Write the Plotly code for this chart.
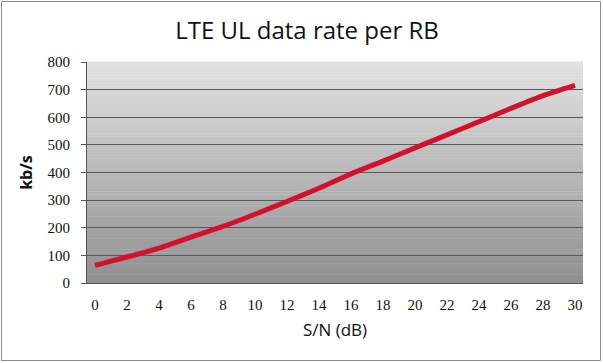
import plotly.graph_objects as go

# kb/s values (every 2 dB)
sn_db = list(range(0, 31, 2))
rate = [64, 94, 126, 166, 205, 249, 295, 343, 395, 441, 489, 536, 584, 632, 678, 715]
x_ticks = list(range(0, 31, 2))
y_ticks = list(range(0, 801, 100))

fig = go.Figure()
fig.add_trace(go.Scatter(
    x=sn_db, y=rate, mode="lines",
    line=dict(color="#d4112a", width=5, shape="spline", smoothing=0.6),
    hoverinfo="skip", showlegend=False,
))

# vertical gray gradient plot background
shapes = []
n = 80
top = (226, 226, 226)
bot = (143, 143, 143)
for i in range(n):
    t = (i + 0.5) / n
    c = tuple(round(bot[k] + (top[k] - bot[k]) * t) for k in range(3))
    shapes.append(dict(type="rect", xref="paper", yref="paper",
                       x0=0, x1=1, y0=i / n, y1=(i + 1) / n + 0.002,
                       fillcolor="rgb(%d,%d,%d)" % c, line=dict(width=0),
                       layer="below"))

W, H = 603, 363
ml, mr, mt, mb = 87, 20, 62, 80
pw, ph = W - ml - mr, H - mt - mb
def px(x):
    return (x - ml) / pw
def py(y):
    return (H - mb - y) / ph
shapes.append(dict(type="rect", xref="paper", yref="paper",
                   x0=px(1.5), x1=px(600.5), y0=py(360.5), y1=py(1.5),
                   line=dict(color="#8a8a8a", width=1), fillcolor="rgba(0,0,0,0)",
                   layer="above"))

fig.update_layout(
    width=W, height=H,
    margin=dict(l=ml, r=mr, t=mt, b=mb),
    paper_bgcolor="white",
    plot_bgcolor="rgba(0,0,0,0)",
    shapes=shapes,
    title=dict(text="LTE UL data rate per RB", x=307 / W,
               xanchor="center", y=1 - 31 / H, yanchor="middle",
               font=dict(family="Open Sans", size=24, color="#111111")),
    xaxis=dict(
        range=[-0.5, 30.5], tickvals=x_ticks, ticktext=[str(v) for v in x_ticks],
        showgrid=False, zeroline=False, showline=True, linecolor="#555555", linewidth=1,
        ticks="", ticklabelstandoff=8,
        tickfont=dict(family="Liberation Serif", size=15, color="#111111"),
        title=dict(text="S/N (dB)", standoff=12,
                   font=dict(family="Open Sans", size=17, color="#111111")),
    ),
    yaxis=dict(
        range=[0, 800], tickvals=y_ticks,
        showgrid=True, gridcolor="#5a5a5a", gridwidth=1,
        zeroline=False, showline=True, linecolor="#555555", linewidth=1,
        ticks="outside", ticklen=5, tickcolor="#555555",
        ticklabelstandoff=8,
        tickfont=dict(family="Liberation Serif", size=15, color="#111111"),
        title=dict(text="<b>kb/s</b>", standoff=10,
                   font=dict(family="Open Sans", size=16, color="#111111")),
    ),
)

fig.write_html("out.html", config={"displayModeBar": False},
               post_script="document.body.style.margin='0';")
